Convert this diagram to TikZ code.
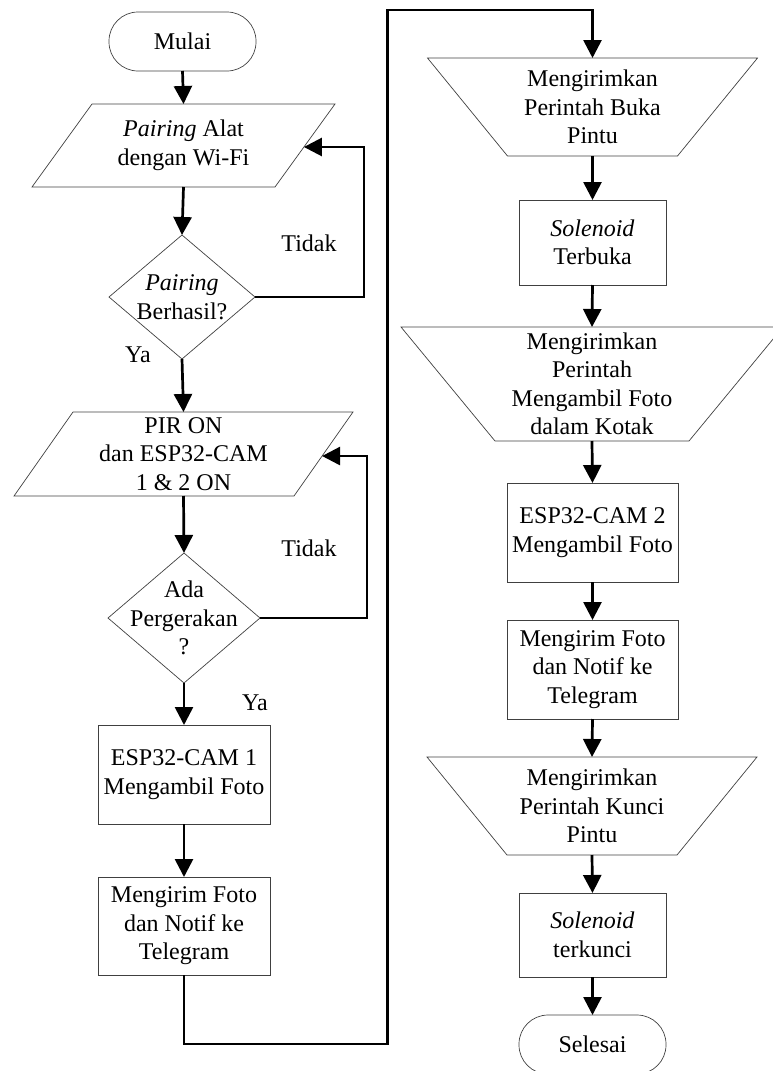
\documentclass[tikz,border=0pt]{standalone}
\usepackage{fontspec}
\setmainfont{Liberation Serif}
\usetikzlibrary{arrows.meta,calc}
\begin{document}
\begin{tikzpicture}[x=1pt,y=-1pt,
  txt/.style={font=\fontsize{24}{28.5}\selectfont, align=center, inner sep=0pt, outer sep=0pt},
  box/.style={txt, draw=black!75, line width=0.7pt, rectangle},
  term/.style={box, rounded corners=29pt},
  shp/.style={draw=black!75, line width=0.7pt},
  flow/.style={line width=2.7pt, -{Triangle[length=18pt,width=18pt]}},
  lbl/.style={font=\fontsize{24}{28.5}\selectfont, inner sep=0pt}]
\useasboundingbox (0,0) rectangle (772,1071);

% ---------- left column ----------
\node[term, minimum width=147pt, minimum height=59pt] (start) at (182.5,41.5) {Mulai};

\node[txt, minimum width=303pt, minimum height=83pt] (p1) at (183.5,145.5) {\textit{Pairing} Alat\\dengan Wi-Fi};
\draw[shp] ([xshift=60pt]p1.north west) -- (p1.north east) -- ([xshift=-60pt]p1.south east) -- (p1.south west) -- cycle;

\node[txt, minimum width=146pt, minimum height=124pt] (d1) at (182,297) {\textit{Pairing}\\Berhasil?};
\draw[shp] (d1.north) -- (d1.east) -- (d1.south) -- (d1.west) -- cycle;

\node[txt, minimum width=339pt, minimum height=84pt] (p2) at (183.5,454) {PIR ON\\dan ESP32-CAM\\1 \& 2 ON};
\draw[shp] ([xshift=59pt]p2.north west) -- (p2.north east) -- ([xshift=-59pt]p2.south east) -- (p2.south west) -- cycle;

\node[txt, minimum width=152pt, minimum height=130pt] (d2) at (184,618) {Ada\\Pergerakan\\?};
\draw[shp] (d2.north) -- (d2.east) -- (d2.south) -- (d2.west) -- cycle;

\node[box, minimum width=172pt, minimum height=99pt] (b1) at (184,774.5) {ESP32-CAM 1\\Mengambil Foto};
\node[box, minimum width=172pt, minimum height=98pt] (b2) at (184,926) {Mengirim Foto\\dan Notif ke\\Telegram};

% labels
\node[lbl] (tidak1) at (309,243) {Tidak};
\node[lbl] (ya1) at (138,355) {Ya};
\node[lbl] (tidak2) at (309,548) {Tidak};
\node[lbl] (ya2) at (255,703) {Ya};

% ---------- right column ----------
\node[txt, minimum width=330pt, minimum height=98pt] (t1) at (592.5,107) {Mengirimkan\\Perintah Buka\\Pintu};
\draw[shp] (t1.north west) -- (t1.north east) -- ([xshift=-80pt]t1.south east) -- ([xshift=80pt]t1.south west) -- cycle;

\node[box, minimum width=147pt, minimum height=85pt] (s1) at (592.5,242.5) {\textit{Solenoid}\\Terbuka};

\node[txt, minimum width=382pt, minimum height=114pt] (t2) at (592,384) {Mengirimkan\\Perintah\\Mengambil Foto\\dalam Kotak};
\draw[shp] (t2.north west) -- (t2.north east) -- ([xshift=-94pt]t2.south east) -- ([xshift=94pt]t2.south west) -- cycle;

\node[box, minimum width=171pt, minimum height=99pt] (b3) at (592.5,532.5) {ESP32-CAM 2\\Mengambil Foto};
\node[box, minimum width=171pt, minimum height=99pt] (b4) at (592.5,669.5) {Mengirim Foto\\dan Notif ke\\Telegram};

\node[txt, minimum width=330pt, minimum height=98pt] (t3) at (592,806) {Mengirimkan\\Perintah Kunci\\Pintu};
\draw[shp] (t3.north west) -- (t3.north east) -- ([xshift=-80pt]t3.south east) -- ([xshift=80pt]t3.south west) -- cycle;

\node[box, minimum width=147pt, minimum height=84pt] (s2) at (592.5,935) {\textit{Solenoid}\\terkunci};
\node[term, minimum width=147pt, minimum height=59pt] (end) at (592.5,1044.5) {Selesai};

% ---------- helper coordinates ----------
\coordinate (p1ne) at (p1.north east);
\coordinate (p1se) at ([xshift=-60pt]p1.south east);
\coordinate (p1in) at ($(p1ne)!0.518!(p1se)$);
\coordinate (p2ne) at (p2.north east);
\coordinate (p2se) at ([xshift=-59pt]p2.south east);
\coordinate (p2in) at ($(p2ne)!0.524!(p2se)$);
\coordinate (r1) at (364,0);
\coordinate (r2) at (367,0);
\coordinate (j1) at (387.5,1044);
\coordinate (j2) at (387.5,10);

% ---------- connectors ----------
\draw[flow] (start.south) -- (p1.north);
\draw[flow] (p1.south) -- (d1.north);
\draw[flow] (d1.east) -- (d1.east -| r1) |- (p1in);
\draw[flow] (d1.south) -- (p2.north);
\draw[flow] (p2.south) -- (d2.north);
\draw[flow] (d2.east) -- (d2.east -| r2) |- (p2in);
\draw[flow] (d2.south) -- (b1.north);
\draw[flow] (b1.south) -- (b2.north);
\draw[flow] (b2.south) |- (j1) -- (j2) -| (t1.north);
\draw[flow] (t1.south) -- (s1.north);
\draw[flow] (s1.south) -- (t2.north);
\draw[flow] (t2.south) -- (b3.north);
\draw[flow] (b3.south) -- (b4.north);
\draw[flow] (b4.south) -- (t3.north);
\draw[flow] (t3.south) -- (s2.north);
\draw[flow] (s2.south) -- (end.north);
\end{tikzpicture}
\end{document}
